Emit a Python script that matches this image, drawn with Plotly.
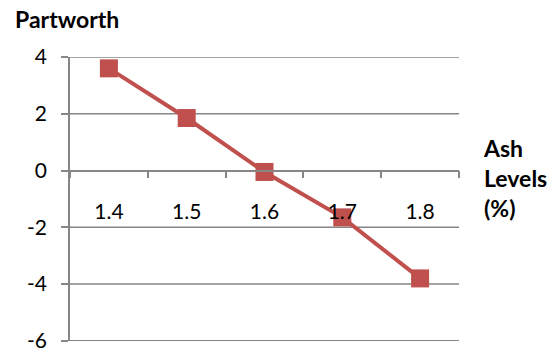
import plotly.graph_objects as go

categories = ["1.4", "1.5", "1.6", "1.7", "1.8"]
partworth = [3.6, 1.85, -0.05, -1.65, -3.8]
y_ticks = [-6, -4, -2, 0, 2, 4]

RED = "#C0504D"
GRID = "#868686"
FONT = "Lato"
TICK_SIZE = 21
LABEL_SIZE = 23

fig = go.Figure()
fig.add_trace(go.Scatter(
    x=categories, y=partworth, mode="lines+markers",
    line=dict(color=RED, width=4),
    marker=dict(symbol="square", size=18, color=RED),
    showlegend=False, cliponaxis=False,
))

shapes = [
    dict(type="line", xref="paper", yref="y", x0=0, x1=1, y0=v, y1=v,
         line=dict(color=GRID, width=1.5), layer="below")
    for v in y_ticks if v != 0
]

fig.update_layout(
    width=556, height=352,
    margin=dict(l=70, r=97, t=57, b=11, autoexpand=False),
    plot_bgcolor="white", paper_bgcolor="white",
    font=dict(family=FONT, size=TICK_SIZE, color="black"),
    shapes=shapes,
    xaxis=dict(
        type="category", range=[-0.5, 4.5],
        anchor="free", position=0.6, automargin=False,
        showline=True, linecolor=GRID, linewidth=1.5,
        ticks="outside", tickson="boundaries", ticklen=7, tickcolor=GRID, tickwidth=1.5,
        showgrid=False, zeroline=False,
        ticklabelstandoff=22,
        tickfont=dict(family=FONT, size=TICK_SIZE),
    ),
    yaxis=dict(
        range=[-6.005, 4.0], tickvals=y_ticks, ticktext=[str(v) for v in y_ticks],
        automargin=False, ticklabeloverflow="allow",
        showline=True, linecolor=GRID, linewidth=1.5,
        ticks="outside", ticklen=7, tickcolor=GRID, tickwidth=1.5,
        showgrid=False, zeroline=False,
        ticklabelstandoff=10,
        tickfont=dict(family=FONT, size=TICK_SIZE),
    ),
    annotations=[
        dict(text="<b>Partworth</b>", xref="paper", yref="paper",
             x=-57/389, y=1 + 38/284, xanchor="left", yanchor="middle",
             showarrow=False, font=dict(family=FONT, size=LABEL_SIZE)),
        dict(text="<b>Ash<br>Levels<br>(%)</b>", xref="paper", yref="paper",
             x=1 + 22/389, y=(341 - 178) / 284, xanchor="left", yanchor="middle",
             align="left", showarrow=False, font=dict(family=FONT, size=LABEL_SIZE)),
    ],
)

fig.write_html("out.html")
